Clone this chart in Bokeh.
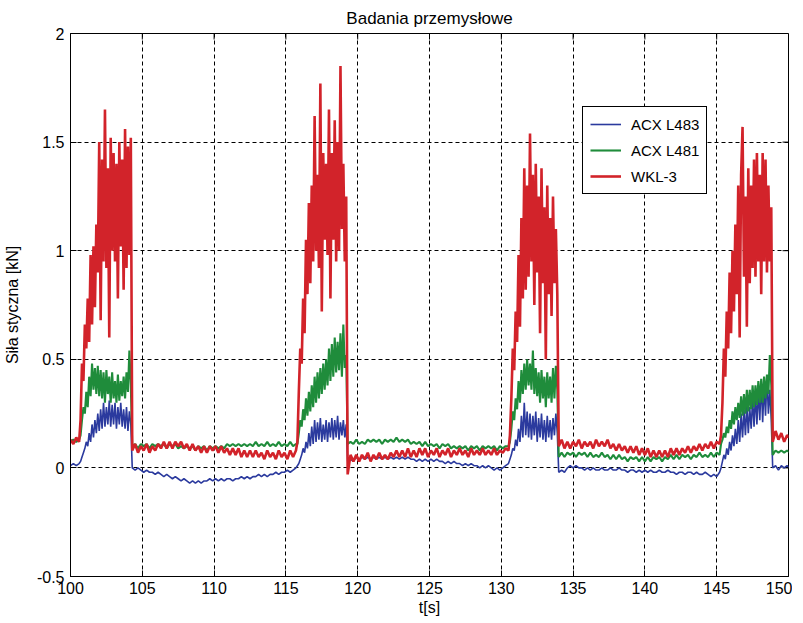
import math
from bokeh.plotting import figure
from bokeh.models import Range1d, FixedTicker, NumeralTickFormatter, Legend, LegendItem
from bokeh.embed import file_html
from bokeh.resources import INLINE

# ---- data -----------------------------------------------------------------
TITLE = "Badania przemysłowe"
X_LABEL = "t[s]"
Y_LABEL = "Siła styczna [kN]"
SERIES_NAMES = ["ACX L483", "ACX L481", "WKL-3"]
X_RANGE = (100, 150)
Y_RANGE = (-0.5, 2)
X_TICKS = [100, 105, 110, 115, 120, 125, 130, 135, 140, 145, 150]
Y_TICKS = [-0.5, 0, 0.5, 1, 1.5, 2]

# sampling segments (start time [s], step [s]) shared by all series
SEG_START = [100.0, 100.7, 104.3, 115.8, 119.3, 130.6, 134.0, 145.3, 148.9]
SEG_STEP = [0.2, 0.1, 0.2, 0.1, 0.2, 0.1, 0.2, 0.1, 0.2]

# ACX L483 (blue)
acx483_seg0 = [0.01, 0.02, 0.01, 0.02]
acx483_seg1 = [0.03, 0.05, 0.07, 0.09, 0.12, 0.10, 0.16, 0.12, 0.20, 0.14, 0.22, 0.16,
               0.25, 0.17, 0.27, 0.18, 0.30, 0.19, 0.28, 0.20, 0.31, 0.19, 0.29, 0.20,
               0.30, 0.18, 0.28, 0.20, 0.30, 0.19, 0.27, 0.18, 0.28, 0.17, 0.26, 0.20]
acx483_seg2 = [0.00, -0.01, 0.00, -0.01, -0.02, -0.01, -0.02, -0.02, -0.03, -0.02,
               -0.03, -0.04, -0.03, -0.04, -0.05, -0.04, -0.05, -0.06, -0.05, -0.06,
               -0.07, -0.06, -0.07, -0.06, -0.07, -0.06, -0.06, -0.05, -0.06, -0.05,
               -0.06, -0.05, -0.06, -0.05, -0.05, -0.06, -0.05, -0.05, -0.04, -0.05,
               -0.04, -0.05, -0.04, -0.04, -0.03, -0.04, -0.03, -0.04, -0.03, -0.03,
               -0.02, -0.03, -0.02, -0.02, -0.01, -0.02, -0.01, 0.00]
acx483_seg3 = [0.01, 0.02, 0.04, 0.06, 0.09, 0.07, 0.12, 0.09, 0.16, 0.10, 0.19, 0.11,
               0.22, 0.12, 0.21, 0.13, 0.23, 0.12, 0.20, 0.13, 0.22, 0.12, 0.21, 0.14,
               0.23, 0.13, 0.22, 0.14, 0.24, 0.13, 0.21, 0.15, 0.22, 0.14, 0.20]
acx483_seg4 = [0.03, 0.04, 0.03, 0.05, 0.04, 0.05, 0.04, 0.05, 0.04, 0.05,
               0.04, 0.05, 0.04, 0.05, 0.04, 0.05, 0.04, 0.05, 0.04, 0.05,
               0.04, 0.05, 0.04, 0.04, 0.03, 0.04, 0.03, 0.04, 0.03, 0.04,
               0.03, 0.04, 0.03, 0.03, 0.02, 0.03, 0.02, 0.03, 0.02, 0.02,
               0.01, 0.02, 0.01, 0.02, 0.01, 0.01, 0.00, 0.01, 0.00, 0.01,
               0.00, -0.01, 0.00, -0.01, 0.00, 0.01, 0.02]
acx483_seg5 = [0.04, 0.06, 0.09, 0.08, 0.13, 0.10, 0.18, 0.12, 0.24, 0.14, 0.30, 0.15,
               0.26, 0.14, 0.25, 0.13, 0.24, 0.15, 0.26, 0.12, 0.23, 0.14, 0.25, 0.13,
               0.22, 0.12, 0.24, 0.14, 0.22, 0.13, 0.23, 0.15, 0.25, 0.16]
acx483_seg6 = [-0.02, -0.01, -0.02, 0.00, 0.01, 0.00, 0.01, 0.00, 0.00, -0.01,
               0.00, -0.01, 0.00, -0.01, -0.01, 0.00, -0.01, -0.01, 0.00, -0.01,
               -0.01, 0.00, -0.01, -0.01, -0.02, -0.01, -0.01, -0.02, -0.01, -0.02,
               -0.01, -0.02, -0.01, -0.02, -0.02, -0.01, -0.02, -0.02, -0.01, -0.02,
               -0.02, -0.03, -0.02, -0.02, -0.03, -0.02, -0.02, -0.03, -0.02, -0.03,
               -0.03, -0.02, -0.03, -0.04, -0.03, -0.04, -0.02]
acx483_seg7 = [0.00, 0.03, 0.06, 0.04, 0.09, 0.06, 0.12, 0.08, 0.15, 0.10, 0.18, 0.11,
               0.22, 0.12, 0.25, 0.14, 0.27, 0.15, 0.29, 0.16, 0.28, 0.18, 0.32, 0.19,
               0.34, 0.20, 0.36, 0.22, 0.40, 0.21, 0.38, 0.24, 0.42, 0.25, 0.36, 0.22]
acx483_seg8 = [0.00, 0.01, -0.01, 0.01, 0.00, 0.01, 0.00]

# ACX L481 (green)
acx481_seg0 = [0.12, 0.13, 0.12, 0.13]
acx481_seg1 = [0.15, 0.22, 0.28, 0.25, 0.35, 0.28, 0.42, 0.33, 0.48, 0.36, 0.46, 0.34,
               0.47, 0.33, 0.45, 0.32, 0.44, 0.30, 0.45, 0.34, 0.42, 0.30, 0.44, 0.32,
               0.40, 0.30, 0.43, 0.31, 0.40, 0.33, 0.42, 0.32, 0.44, 0.35, 0.54, 0.38]
acx481_seg2 = [0.10, 0.11, 0.09, 0.11, 0.10, 0.11, 0.09, 0.11, 0.10, 0.11,
               0.10, 0.11, 0.09, 0.11, 0.10, 0.11, 0.09, 0.10, 0.09, 0.10,
               0.09, 0.10, 0.08, 0.10, 0.09, 0.10, 0.08, 0.10, 0.09, 0.10,
               0.09, 0.10, 0.09, 0.11, 0.10, 0.11, 0.10, 0.11, 0.10, 0.11,
               0.10, 0.11, 0.10, 0.12, 0.10, 0.11, 0.10, 0.12, 0.10, 0.11,
               0.10, 0.12, 0.10, 0.11, 0.10, 0.12, 0.10, 0.11]
acx481_seg3 = [0.11, 0.16, 0.22, 0.19, 0.27, 0.22, 0.32, 0.24, 0.35, 0.26, 0.38, 0.28,
               0.42, 0.30, 0.44, 0.32, 0.46, 0.34, 0.48, 0.36, 0.50, 0.38, 0.55, 0.40,
               0.57, 0.42, 0.60, 0.44, 0.58, 0.45, 0.62, 0.42, 0.66, 0.46, 0.52]
acx481_seg4 = [0.11, 0.12, 0.11, 0.13, 0.11, 0.12, 0.11, 0.13, 0.12, 0.13,
               0.12, 0.13, 0.11, 0.13, 0.12, 0.13, 0.12, 0.14, 0.12, 0.13,
               0.12, 0.13, 0.11, 0.12, 0.11, 0.12, 0.10, 0.12, 0.10, 0.11,
               0.10, 0.11, 0.09, 0.11, 0.10, 0.11, 0.09, 0.10, 0.09, 0.10,
               0.09, 0.10, 0.08, 0.10, 0.09, 0.10, 0.08, 0.10, 0.09, 0.10,
               0.09, 0.10, 0.08, 0.10, 0.09, 0.10, 0.10]
acx481_seg5 = [0.12, 0.18, 0.26, 0.22, 0.32, 0.27, 0.40, 0.30, 0.45, 0.34, 0.48, 0.36,
               0.50, 0.38, 0.48, 0.36, 0.54, 0.34, 0.46, 0.33, 0.44, 0.30, 0.45, 0.32,
               0.42, 0.28, 0.44, 0.32, 0.42, 0.30, 0.46, 0.32, 0.47, 0.36]
acx481_seg6 = [0.05, 0.07, 0.05, 0.07, 0.06, 0.07, 0.05, 0.07, 0.06, 0.07,
               0.05, 0.07, 0.05, 0.06, 0.05, 0.07, 0.05, 0.06, 0.04, 0.06,
               0.04, 0.06, 0.04, 0.05, 0.03, 0.05, 0.04, 0.05, 0.03, 0.05,
               0.03, 0.05, 0.03, 0.05, 0.04, 0.05, 0.03, 0.05, 0.04, 0.06,
               0.04, 0.06, 0.04, 0.06, 0.05, 0.06, 0.04, 0.06, 0.05, 0.07,
               0.05, 0.06, 0.05, 0.07, 0.05, 0.07, 0.06]
acx481_seg7 = [0.11, 0.13, 0.16, 0.14, 0.19, 0.16, 0.22, 0.18, 0.26, 0.20, 0.28, 0.22,
               0.30, 0.23, 0.33, 0.24, 0.34, 0.25, 0.36, 0.26, 0.36, 0.27, 0.38, 0.28,
               0.38, 0.29, 0.40, 0.30, 0.41, 0.30, 0.42, 0.32, 0.43, 0.34, 0.52, 0.38]
acx481_seg8 = [0.06, 0.08, 0.07, 0.08, 0.07, 0.08, 0.07]

# WKL-3 (red)
wkl3_seg0 = [0.13, 0.11, 0.14, 0.12]
wkl3_seg1 = [0.22, 0.48, 0.40, 0.66, 0.55, 0.78, 0.58, 0.98, 0.66, 1.02, 0.74, 1.12,
             0.90, 1.50, 0.68, 1.42, 0.95, 1.65, 0.92, 1.38, 0.60, 1.52, 1.00, 1.45,
             0.95, 1.40, 0.78, 1.50, 1.02, 1.42, 0.82, 1.56, 0.92, 1.48, 0.98, 1.52]
wkl3_seg2 = [0.08, 0.11, 0.07, 0.10, 0.08, 0.11, 0.07, 0.10, 0.08, 0.11,
             0.09, 0.12, 0.09, 0.12, 0.09, 0.12, 0.10, 0.12, 0.09, 0.11,
             0.08, 0.11, 0.08, 0.10, 0.07, 0.10, 0.07, 0.10, 0.08, 0.10,
             0.07, 0.10, 0.07, 0.09, 0.06, 0.09, 0.06, 0.09, 0.05, 0.08,
             0.05, 0.08, 0.05, 0.08, 0.05, 0.07, 0.04, 0.08, 0.05, 0.07,
             0.04, 0.08, 0.05, 0.07, 0.04, 0.08, 0.05, 0.08]
wkl3_seg3 = [0.12, 0.35, 0.55, 0.48, 0.78, 0.62, 1.05, 0.80, 1.22, 0.85, 1.30, 0.95,
             1.62, 1.00, 1.35, 0.92, 1.77, 0.72, 1.45, 1.05, 1.40, 0.98, 1.65, 0.78,
             1.45, 1.05, 1.60, 0.95, 1.50, 1.00, 1.85, 1.10, 1.40, 0.95, 1.25]
wkl3_seg4 = [-0.03, 0.06, 0.03, 0.06, 0.03, 0.06, 0.04, 0.07, 0.03, 0.06,
             0.04, 0.07, 0.04, 0.06, 0.04, 0.07, 0.05, 0.08, 0.05, 0.08,
             0.05, 0.09, 0.05, 0.08, 0.05, 0.09, 0.06, 0.09, 0.05, 0.08,
             0.06, 0.09, 0.05, 0.08, 0.06, 0.09, 0.05, 0.08, 0.06, 0.09,
             0.06, 0.08, 0.05, 0.09, 0.06, 0.08, 0.06, 0.09, 0.06, 0.08,
             0.06, 0.09, 0.06, 0.08, 0.07, 0.09, 0.08]
wkl3_seg5 = [0.15, 0.32, 0.55, 0.45, 0.72, 0.58, 0.98, 0.65, 1.15, 0.78, 1.38, 0.82,
             1.30, 0.88, 1.54, 0.95, 1.35, 0.75, 1.40, 0.90, 1.25, 0.62, 1.38, 0.85,
             1.20, 0.50, 1.30, 0.80, 1.15, 0.70, 1.25, 0.85, 1.10, 0.80]
wkl3_seg6 = [0.10, 0.13, 0.09, 0.12, 0.09, 0.12, 0.10, 0.13, 0.09, 0.12,
             0.10, 0.12, 0.09, 0.13, 0.10, 0.12, 0.10, 0.13, 0.09, 0.11,
             0.08, 0.11, 0.08, 0.10, 0.07, 0.10, 0.07, 0.10, 0.06, 0.09,
             0.06, 0.09, 0.05, 0.08, 0.05, 0.08, 0.05, 0.08, 0.05, 0.09,
             0.06, 0.09, 0.06, 0.09, 0.07, 0.10, 0.07, 0.10, 0.08, 0.11,
             0.08, 0.11, 0.09, 0.12, 0.09, 0.12, 0.11]
wkl3_seg7 = [0.15, 0.30, 0.55, 0.42, 0.72, 0.55, 0.90, 0.62, 1.00, 0.72, 1.12, 0.80,
             1.30, 0.60, 1.35, 1.57, 0.88, 1.25, 0.65, 1.38, 0.85, 1.30, 0.92, 1.42,
             0.88, 1.45, 0.95, 1.35, 0.80, 1.45, 0.95, 1.42, 0.90, 1.30, 0.95, 1.20]
wkl3_seg8 = [0.12, 0.17, 0.13, 0.16, 0.12, 0.15, 0.14]

ACX483 = [acx483_seg0, acx483_seg1, acx483_seg2, acx483_seg3, acx483_seg4,
          acx483_seg5, acx483_seg6, acx483_seg7, acx483_seg8]
ACX481 = [acx481_seg0, acx481_seg1, acx481_seg2, acx481_seg3, acx481_seg4,
          acx481_seg5, acx481_seg6, acx481_seg7, acx481_seg8]
WKL3 = [wkl3_seg0, wkl3_seg1, wkl3_seg2, wkl3_seg3, wkl3_seg4,
        wkl3_seg5, wkl3_seg6, wkl3_seg7, wkl3_seg8]

COLORS = ["#2b3a9e", "#1f8c3b", "#d2232a"]
WIDTHS = [1.6, 2.1, 2.6]


def assemble(segments):
    ts, ys = [], []
    for start, step, vals in zip(SEG_START, SEG_STEP, segments):
        for i, v in enumerate(vals):
            ts.append(round(start + i * step, 4))
            ys.append(v)
    return ts, ys


FONT = "Liberation Sans"

p = figure(frame_width=718, frame_height=543,
           x_range=Range1d(*X_RANGE), y_range=Range1d(*Y_RANGE),
           output_backend="svg", toolbar_location=None,
           min_border_left=66, min_border_right=4, min_border_top=30, min_border_bottom=44,
           background_fill_color="white", border_fill_color="white")

p.title.text = TITLE
p.title.align = "center"
p.title.text_font = FONT
p.title.text_font_size = "17px"
p.title.text_font_style = "normal"
p.title.text_color = "black"
p.title.standoff = 12

p.outline_line_color = "black"
p.outline_line_width = 1
p.outline_line_alpha = 1

for ax in (p.xaxis[0], p.yaxis[0]):
    ax.axis_line_color = "black"
    ax.major_tick_line_color = "black"
    ax.major_tick_in = 6
    ax.major_tick_out = 0
    ax.minor_tick_line_color = None
    ax.major_label_text_font = FONT
    ax.major_label_text_font_size = "16px"
    ax.major_label_text_color = "black"
    ax.axis_label_text_font = FONT
    ax.axis_label_text_font_size = "16px"
    ax.axis_label_text_font_style = "normal"
    ax.axis_label_text_color = "black"

p.xaxis.ticker = FixedTicker(ticks=X_TICKS)
p.yaxis.ticker = FixedTicker(ticks=Y_TICKS)
p.yaxis.formatter = NumeralTickFormatter(format="0.[0]")
p.xaxis.axis_label = X_LABEL
p.yaxis.axis_label = Y_LABEL
p.xaxis.major_label_standoff = 5
p.xaxis.axis_label_standoff = 2
p.yaxis.major_label_standoff = 6
p.yaxis.axis_label_standoff = 13

p.grid.grid_line_color = "black"
p.grid.grid_line_dash = "4 3"
p.grid.grid_line_width = 1
p.xgrid.ticker = FixedTicker(ticks=X_TICKS)
p.ygrid.ticker = FixedTicker(ticks=Y_TICKS)

# inward ticks on the right and top edges of the box
p.ray(x=[X_RANGE[1]] * len(Y_TICKS), y=Y_TICKS, length=6, length_units="screen",
      angle=math.pi, line_color="black", line_width=1)
p.ray(x=X_TICKS, y=[Y_RANGE[1]] * len(X_TICKS), length=6, length_units="screen",
      angle=-math.pi / 2, line_color="black", line_width=1)

items = []
for name, segs, col, lw in zip(SERIES_NAMES, [ACX483, ACX481, WKL3], COLORS, WIDTHS):
    t, y = assemble(segs)
    r = p.line(t, y, line_color=col, line_width=lw)
    items.append(LegendItem(label=name, renderers=[r]))

legend = Legend(items=items, location=(512, 382), orientation="vertical",
                border_line_color="black", border_line_width=1, border_line_alpha=1,
                background_fill_color="white", background_fill_alpha=1,
                label_text_font=FONT, label_text_font_size="15px", label_text_color="black",
                glyph_width=31, glyph_height=20, label_height=20, label_standoff=10,
                spacing=6, padding=7, margin=0)
p.add_layout(legend, "center")

open("out.html", "w").write(file_html(p, INLINE))
